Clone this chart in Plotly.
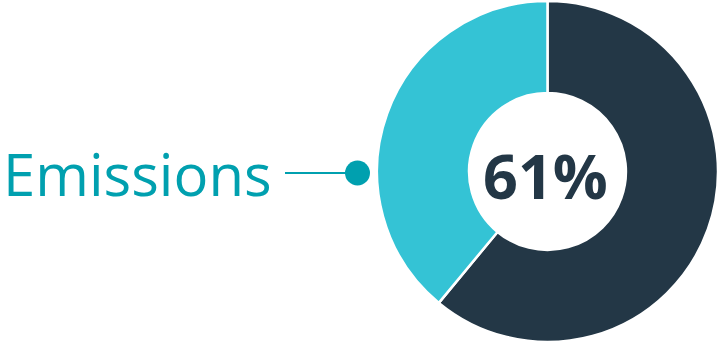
import plotly.graph_objects as go

# Share of the total
labels = ["Emissions", "Other"]
values = [61, 39]
colors = ["#233746", "#34C3D5"]
highlight_label = "Emissions"
center_text = f"{values[0]}%"

W, H = 722, 343

fig = go.Figure(
    go.Pie(
        labels=labels,
        values=values,
        sort=False,
        direction="clockwise",
        rotation=0,
        hole=0.46,
        marker=dict(colors=colors, line=dict(color="white", width=2.5)),
        textinfo="none",
        hoverinfo="label+percent",
        showlegend=False,
        domain=dict(x=[377 / W, 718 / W], y=[0.0, 1.0]),
    )
)

# Center value
fig.add_annotation(
    x=545 / W, y=1 - 175 / H, xref="paper", yref="paper",
    text=f"<b>{center_text}</b>", showarrow=False,
    font=dict(family="Open Sans", size=61, color="#233746"),
    xanchor="center", yanchor="middle",
)

# Callout label with connector and dot
fig.add_annotation(
    x=1 / W, y=1 - 173 / H, xref="paper", yref="paper",
    text=highlight_label, showarrow=False,
    font=dict(family="Open Sans", size=58, color="#00A0AF"),
    xanchor="left", yanchor="middle",
)
fig.add_shape(
    type="line", xref="paper", yref="paper",
    x0=285 / W, x1=350 / W, y0=1 - 173 / H, y1=1 - 173 / H,
    line=dict(color="#00A0AF", width=2),
)
fig.add_shape(
    type="circle", xref="paper", yref="paper",
    x0=345 / W, x1=370 / W, y0=1 - 185.5 / H, y1=1 - 160.5 / H,
    fillcolor="#00A0AF", line=dict(width=0),
)

fig.update_layout(
    width=W, height=H,
    margin=dict(l=0, r=0, t=0, b=0),
    paper_bgcolor="white", plot_bgcolor="white",
)

fig.write_html("out.html")
